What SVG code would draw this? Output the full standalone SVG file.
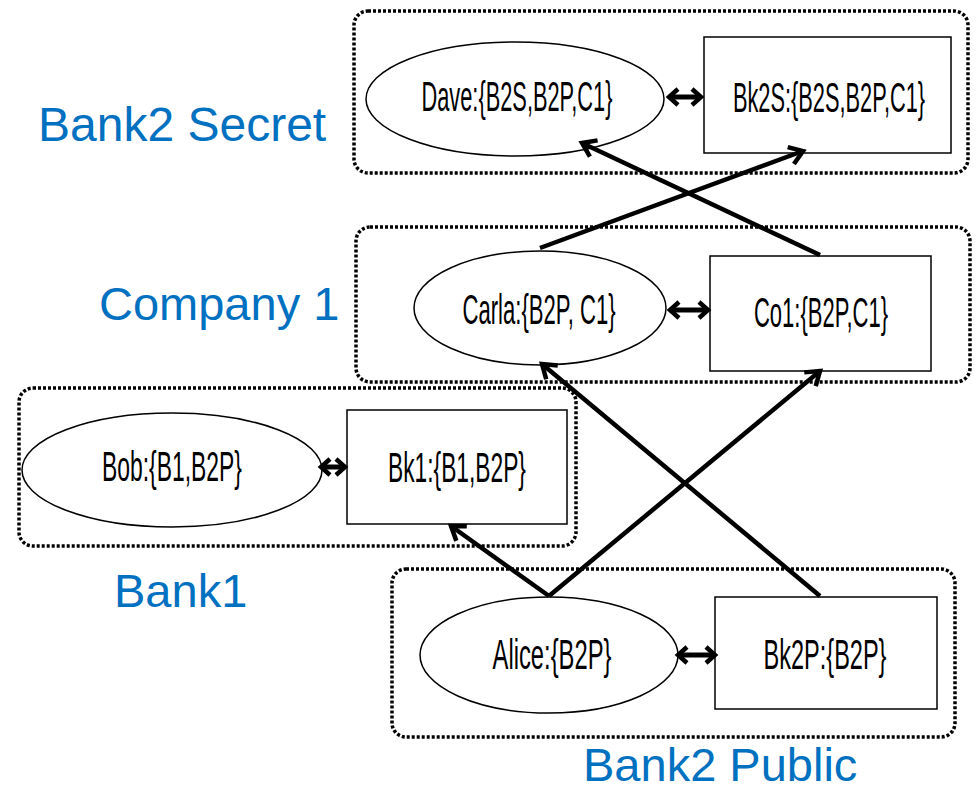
<svg xmlns="http://www.w3.org/2000/svg" width="977" height="791" viewBox="0 0 977 791">
  <style>
    .bg { fill: #ffffff; }
    .domain { fill: none; stroke: #000000; stroke-width: 3.5; stroke-dasharray: 3 2; }
    .shape { fill: #ffffff; stroke: #000000; stroke-width: 1.5; }
    .label { font-family: "Liberation Sans", Arial, sans-serif; font-size: 42px; fill: #000000; text-anchor: middle; }
    .domain-name { font-family: "Liberation Sans", Arial, sans-serif; font-size: 47px; fill: #0070C0; }
    .flow { fill: none; stroke: #000000; stroke-width: 4.5; marker-end: url(#head); }
    .link { fill: none; stroke: #000000; stroke-width: 5; marker-start: url(#head-sm); marker-end: url(#head-sm); }
  </style>
  <defs>
    <marker id="head" viewBox="-18 -14 22 28" refX="0" refY="0" markerWidth="22" markerHeight="28" markerUnits="userSpaceOnUse" orient="auto-start-reverse">
      <path d="M-13,-9 L0,0 L-13,9" fill="none" stroke="#000000" stroke-width="4.5"/>
    </marker>
    <marker id="head-sm" viewBox="-14 -12 18 24" refX="0" refY="0" markerWidth="18" markerHeight="24" markerUnits="userSpaceOnUse" orient="auto-start-reverse">
      <path d="M-9,-8 L0,0 L-9,8" fill="none" stroke="#000000" stroke-width="4.5"/>
    </marker>
  </defs>

  <rect class="bg" x="0" y="0" width="977" height="791"/>

  <!-- trust domains -->
  <g id="domain-bank2-secret">
    <rect class="domain" x="354" y="11" width="614" height="162" rx="14"/>
    <text class="domain-name" x="38" y="141" style="font-size:48px">Bank2 Secret</text>
  </g>
  <g id="domain-company1">
    <rect class="domain" x="356" y="227" width="614" height="155" rx="14"/>
    <text class="domain-name" x="99" y="320">Company 1</text>
  </g>
  <g id="domain-bank1">
    <rect class="domain" x="19" y="388" width="557" height="158" rx="14"/>
    <text class="domain-name" x="114" y="607">Bank1</text>
  </g>
  <g id="domain-bank2-public">
    <rect class="domain" x="392" y="569" width="563" height="168" rx="14"/>
    <text class="domain-name" x="583" y="781">Bank2 Public</text>
  </g>

  <!-- principals (ellipses) and accounts (boxes); labels are set in a narrow face -->
  <g id="dave">
    <ellipse class="shape" cx="515" cy="99" rx="149" ry="57"/>
    <text class="label" transform="translate(517 111) scale(0.519 1)">Dave:{B2S,B2P,C1}</text>
  </g>
  <g id="bk2s">
    <rect class="shape" x="704" y="37" width="247" height="116"/>
    <text class="label" transform="translate(829 112) scale(0.519 1)">Bk2S:{B2S,B2P,C1}</text>
  </g>
  <g id="carla">
    <ellipse class="shape" cx="540" cy="308" rx="126" ry="57"/>
    <text class="label" transform="translate(539 324) scale(0.526 1)">Carla:{B2P, C1}</text>
  </g>
  <g id="co1">
    <rect class="shape" x="710" y="256" width="221" height="115"/>
    <text class="label" transform="translate(821 327) scale(0.524 1)">Co1:{B2P,C1}</text>
  </g>
  <g id="bob">
    <ellipse class="shape" cx="172" cy="470" rx="150" ry="57"/>
    <text class="label" transform="translate(172 481) scale(0.545 1)">Bob:{B1,B2P}</text>
  </g>
  <g id="bk1">
    <rect class="shape" x="347" y="410" width="220" height="114"/>
    <text class="label" transform="translate(457 482) scale(0.542 1)">Bk1:{B1,B2P}</text>
  </g>
  <g id="alice">
    <ellipse class="shape" cx="549" cy="655" rx="129" ry="58"/>
    <text class="label" transform="translate(552 669) scale(0.566 1)">Alice:{B2P}</text>
  </g>
  <g id="bk2p">
    <rect class="shape" x="715" y="597" width="222" height="112"/>
    <text class="label" transform="translate(825 669) scale(0.56 1)">Bk2P:{B2P}</text>
  </g>

  <!-- connectors -->
  <g id="connectors">
    <line class="link" x1="669" y1="97" x2="701" y2="97"/>
    <line class="link" x1="670" y1="310" x2="708" y2="310"/>
    <line class="link" x1="321" y1="467" x2="345" y2="467"/>
    <line class="link" x1="678" y1="655" x2="715" y2="655"/>

    <line class="flow" x1="540" y1="248" x2="803" y2="151"/>
    <line class="flow" x1="820" y1="255" x2="582" y2="143"/>
    <line class="flow" x1="549" y1="596" x2="820" y2="371"/>
    <line class="flow" x1="549" y1="596" x2="451" y2="526"/>
    <line class="flow" x1="820" y1="596" x2="542" y2="364"/>
  </g>
</svg>
